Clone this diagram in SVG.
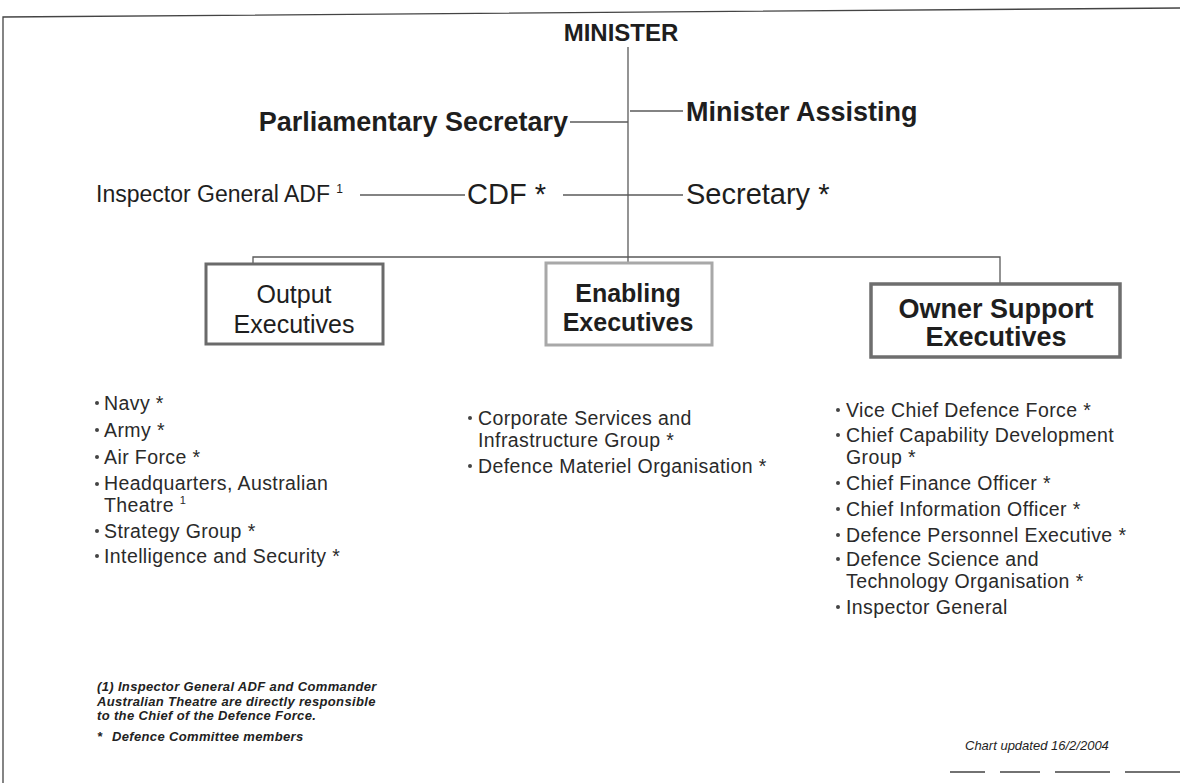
<svg xmlns="http://www.w3.org/2000/svg" width="1180" height="783" viewBox="0 0 1180 783">
  <style>
    .t { font-family: "Liberation Sans", Arial, sans-serif; fill: #1e1e1e; }
    .b { font-weight: bold; }
    .title { font-size: 27px; }
    .mid { font-size: 29px; }
    .li { font-size: 19.5px; letter-spacing: 0.4px; fill: #2a2a2a; }
    .note { font-size: 13px; letter-spacing: 0.35px; font-style: italic; font-weight: bold; fill: #222; }
    .conn { stroke: #5a5a5a; stroke-width: 1.3; fill: none; }
    .frame { stroke: #444; stroke-width: 1.3; fill: none; }
    .dot { fill: #444; }
  </style>

  <rect width="1180" height="783" fill="#ffffff"/>

  <!-- page frame -->
  <g id="frame">
    <path class="frame" d="M3,783 L3,17 L1180,8"/>
    <path class="frame" d="M950,772 H985 M1000,772 H1040 M1055,772 H1110 M1125,772 H1180"/>
  </g>

  <!-- reporting lines -->
  <g id="connectors">
    <path class="conn" d="M628,47 V263"/>
    <path class="conn" d="M630,111 H683"/>
    <path class="conn" d="M570,122 H628"/>
    <path class="conn" d="M360,195 H465"/>
    <path class="conn" d="M563,195 H683"/>
    <path class="conn" d="M253,263 V257 H1000 V283"/>
  </g>

  <g id="minister">
    <text class="t b" x="621" y="41" font-size="24" text-anchor="middle">MINISTER</text>
  </g>
  <g id="minister-assisting">
    <text class="t b title" x="686" y="121">Minister Assisting</text>
  </g>
  <g id="parliamentary-secretary">
    <text class="t b title" x="568" y="131" text-anchor="end">Parliamentary Secretary</text>
  </g>
  <g id="inspector-general-adf">
    <text class="t" x="96" y="202" font-size="23">Inspector General ADF <tspan font-size="12" dy="-9">1</tspan></text>
  </g>
  <g id="cdf">
    <text class="t mid" x="467" y="204">CDF *</text>
  </g>
  <g id="secretary">
    <text class="t mid" x="686" y="204">Secretary *</text>
  </g>

  <!-- executive groups -->
  <g id="output-executives">
    <rect x="206" y="264" width="177" height="80" fill="#fff" stroke="#6a6a6a" stroke-width="3"/>
    <text class="t" x="294" y="303" font-size="25" text-anchor="middle">Output</text>
    <text class="t" x="294" y="333" font-size="25" text-anchor="middle">Executives</text>
    <g>
      <circle class="dot" cx="97" cy="403" r="2"/>
      <text class="t li" x="104" y="410">Navy *</text>
      <circle class="dot" cx="97" cy="430" r="2"/>
      <text class="t li" x="104" y="437">Army *</text>
      <circle class="dot" cx="97" cy="457" r="2"/>
      <text class="t li" x="104" y="464">Air Force *</text>
      <circle class="dot" cx="97" cy="484" r="2"/>
      <text class="t li" x="104" y="490">Headquarters, Australian<tspan x="104" dy="22">Theatre </tspan><tspan font-size="11" dy="-8">1</tspan></text>
      <circle class="dot" cx="97" cy="531" r="2"/>
      <text class="t li" x="104" y="538">Strategy Group *</text>
      <circle class="dot" cx="97" cy="556" r="2"/>
      <text class="t li" x="104" y="563">Intelligence and Security *</text>
    </g>
  </g>

  <g id="enabling-executives">
    <rect x="546" y="263" width="166" height="82" fill="#fff" stroke="#a8a8a8" stroke-width="3"/>
    <text class="t b" x="628" y="302" font-size="25" text-anchor="middle">Enabling</text>
    <text class="t b" x="628" y="331" font-size="25" text-anchor="middle">Executives</text>
    <g>
      <circle class="dot" cx="470" cy="418" r="2"/>
      <text class="t li" x="478" y="425">Corporate Services and<tspan x="478" dy="22">Infrastructure Group *</tspan></text>
      <circle class="dot" cx="470" cy="466" r="2"/>
      <text class="t li" x="478" y="473">Defence Materiel Organisation *</text>
    </g>
  </g>

  <g id="owner-support-executives">
    <rect x="871" y="284" width="249" height="73" fill="#fff" stroke="#6e6e6e" stroke-width="3.5"/>
    <text class="t b" x="996" y="318" font-size="27" text-anchor="middle">Owner Support</text>
    <text class="t b" x="996" y="346" font-size="27" text-anchor="middle">Executives</text>
    <g>
      <circle class="dot" cx="838" cy="410" r="2"/>
      <text class="t li" x="846" y="417">Vice Chief Defence Force *</text>
      <circle class="dot" cx="838" cy="435" r="2"/>
      <text class="t li" x="846" y="442">Chief Capability Development<tspan x="846" dy="22">Group *</tspan></text>
      <circle class="dot" cx="838" cy="483" r="2"/>
      <text class="t li" x="846" y="490">Chief Finance Officer *</text>
      <circle class="dot" cx="838" cy="509" r="2"/>
      <text class="t li" x="846" y="516">Chief Information Officer *</text>
      <circle class="dot" cx="838" cy="535" r="2"/>
      <text class="t li" x="846" y="542">Defence Personnel Executive *</text>
      <circle class="dot" cx="838" cy="559" r="2"/>
      <text class="t li" x="846" y="566">Defence Science and<tspan x="846" dy="22">Technology Organisation *</tspan></text>
      <circle class="dot" cx="838" cy="607" r="2"/>
      <text class="t li" x="846" y="614">Inspector General</text>
    </g>
  </g>

  <!-- footnotes -->
  <g id="notes">
    <text class="t note" x="97" y="691">(1) Inspector General ADF and Commander<tspan x="97" dy="14.7">Australian Theatre are directly responsible</tspan><tspan x="97" dy="14.7">to the Chief of the Defence Force.</tspan></text>
    <text class="t note" x="97" y="741">*</text>
    <text class="t note" x="112" y="741" font-weight="normal">Defence Committee members</text>
    <text class="t" x="965" y="750" font-size="13" font-style="italic">Chart updated 16/2/2004</text>
  </g>
</svg>
